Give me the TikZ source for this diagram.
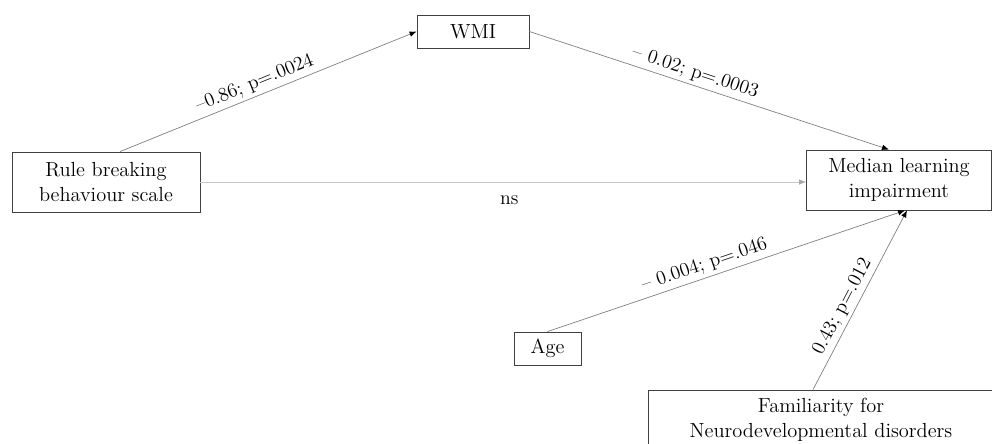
\documentclass[tikz,border=0pt]{standalone}
\usepackage{tikz}
\usetikzlibrary{arrows.meta, calc}

\tikzset{
    varbox/.style={draw=black!75, line width=0.6pt, align=center, inner sep=0pt,
        font=\fontsize{14.5}{18}\selectfont},
    path/.style={draw=black!50, line width=0.5pt, -{Latex[black, length=5pt, width=4pt]}},
    coef/.style={font=\fontsize{14}{16}\selectfont, sloped, above, inner sep=2.5pt}
}

\begin{document}
\begin{tikzpicture}[x=0.025cm, y=-0.025cm]
    \useasboundingbox (0,0) rectangle (992,444);

    % variables
    \node[varbox, minimum width=188*0.025cm, minimum height=60*0.025cm] (rule) at (106,182) {Rule breaking\\behaviour scale};
    \node[varbox, minimum width=112*0.025cm, minimum height=33*0.025cm] (wmi) at (473,31.5) {WMI};
    \node[varbox, minimum width=185*0.025cm, minimum height=60*0.025cm] (med) at (899,180) {Median learning\\impairment};
    \node[varbox, minimum width=67*0.025cm, minimum height=33*0.025cm] (age) at (547.5,348.5) {Age};
    \node[varbox, minimum width=346*0.025cm, minimum height=60*0.025cm] (fam) at (821,420) {Familiarity for\\Neurodevelopmental disorders};

    % paths
    \draw[path] ($(rule.north)+(14,0)$) -- node[coef, pos=0.47] {--0.86; p=.0024} (wmi.west);
    \draw[path] (wmi.east) -- node[coef, pos=0.45] {-- 0.02; p=.0003} ($(med.north)+(-10,0)$);
    \draw[path, draw=black!22, -{Latex[black!35, length=5pt, width=4pt]}] (rule.east) -- node[below=6pt, pos=0.51, font=\fontsize{14}{16}\selectfont] {ns} (rule.east -| med.west);
    \draw[path] (age.north) -- node[coef, pos=0.45] {-- 0.004; p=.046} ($(med.south)+(6,0)$);
    \draw[path] ($(fam.north)+(-8,0)$) -- node[coef, pos=0.43] {0.43; p=.012} ($(med.south)+(8,0)$);

\end{tikzpicture}
\end{document}
